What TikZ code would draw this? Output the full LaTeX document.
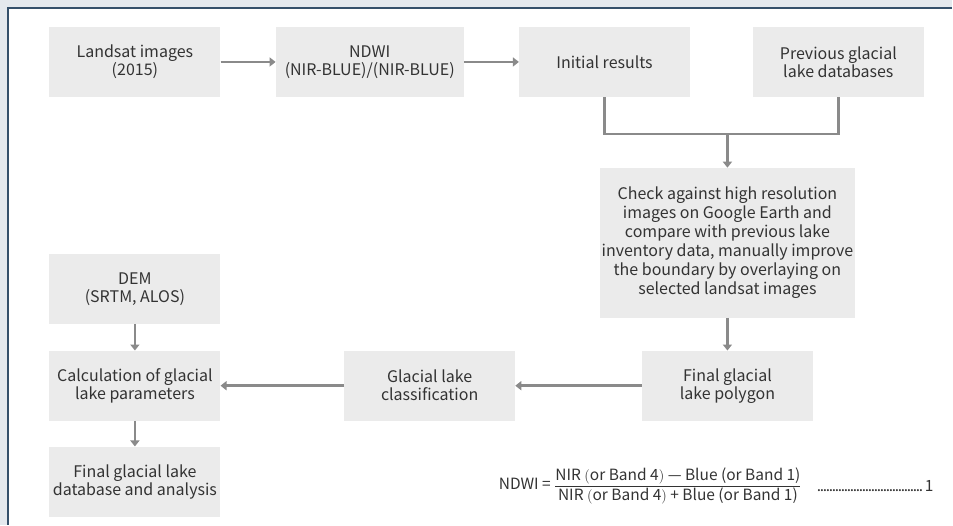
\documentclass[tikz,border=0pt]{standalone}
\usepackage{fontspec}
\setmainfont{Noto Sans CJK KR}
\usepackage{tikz}
\usetikzlibrary{arrows.meta, positioning, calc}
\definecolor{boxgrey}{HTML}{EBEBEB}
\definecolor{linegrey}{HTML}{8A8A8A}
\definecolor{textgrey}{HTML}{333333}
\definecolor{panelblue}{HTML}{E4E9EE}
\definecolor{frameblue}{HTML}{34506B}

\begin{document}
\begin{tikzpicture}[x=1pt, y=-1pt,
    process/.style={rectangle, fill=boxgrey, text=textgrey, minimum width=171pt, minimum height=70pt, inner sep=2pt, align=center, font=\fontsize{16}{18}\selectfont},
    flow/.style={draw=linegrey, line width=2.5pt, -{Triangle[length=6pt, width=9pt]}},
    mergeline/.style={draw=linegrey, line width=2.5pt},
    eqtext/.style={text=textgrey, font=\fontsize{15.5}{17}\selectfont, inner sep=0pt},
]

% frame
\fill[panelblue] (0,0) rectangle (953,525);
\fill[white] (8,8) rectangle (953,525);
\draw[frameblue, line width=1.5pt] (8,525) -- (8,8) -- (953,8);
\useasboundingbox (0,0) rectangle (953,525);

% top row
\node[process] (landsat) at (135,62) {Landsat images\\(2015)};
\node[process, minimum width=188pt] (ndwi) at (370,62) {NDWI\\(NIR-BLUE)/(NIR-BLUE)};
\node[process] (initial) at (605,62) {Initial results};
\node[process] (previous) at (839,62) {Previous glacial\\lake databases};

% checking step
\node[process, minimum width=256pt, minimum height=150pt, font=\fontsize{16}{19}\selectfont] (check) at (728,243) {Check against high resolution\\images on Google Earth and\\compare with previous lake\\inventory data, manually improve\\the boundary by overlaying on\\selected landsat images};
\node[process] (polygon) at (728,386) {Final glacial\\lake polygon};
\node[process] (classify) at (430,386) {Glacial lake\\classification};

% left column
\node[process] (dem) at (135,289) {DEM\\(SRTM, ALOS)};
\node[process] (calc) at (135,386) {Calculation of glacial\\lake parameters};
\node[process] (database) at (135,482) {Final glacial lake\\database and analysis};

\coordinate (merge) at (728,134);

\draw[flow] (landsat) -- (ndwi);
\draw[flow] (ndwi) -- (initial);
\draw[mergeline] (initial.south) |- (merge) -| (previous.south);
\draw[flow] (merge) -- (check);
\draw[flow] (check) -- (polygon);
\draw[flow] (polygon) -- (classify);
\draw[flow] (classify) -- (calc);
\draw[flow] (dem) -- (calc);
\draw[flow] (calc) -- (database);

% equation
\node[eqtext, anchor=west] (equation) at (499,486)
  {NDWI = $\displaystyle\frac{\mbox{NIR $\bigl($or Band 4$\bigr)$ --- Blue (or Band 1)}}{\mbox{NIR $\bigl($or Band 4$\bigr)$ + Blue (or Band 1)}}$};
\node[eqtext, anchor=west] (eqnumber) at (818,486)
  {\makebox[116pt]{\leaders\hbox to 3pt{\hss.\hss}\hfill 1}};

\end{tikzpicture}
\end{document}
